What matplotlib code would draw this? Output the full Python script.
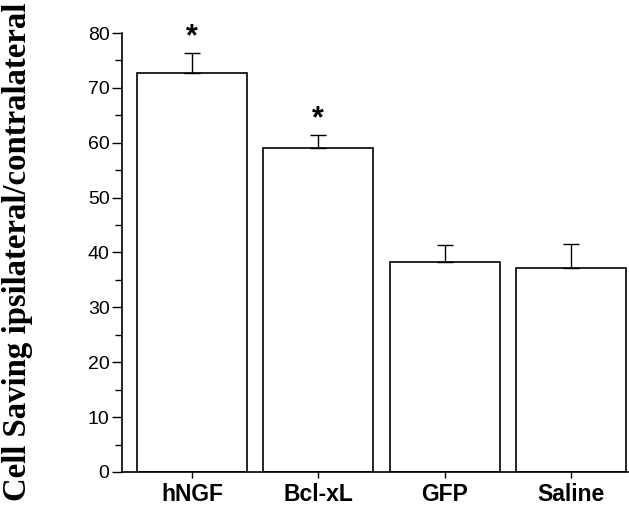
import numpy as np
import matplotlib.pyplot as plt
from matplotlib.ticker import MultipleLocator

groups = ['hNGF', 'Bcl-xL', 'GFP', 'Saline']
means = [72.8, 59.1, 38.3, 37.2]
errors = [3.5, 2.3, 3.0, 4.4]
signif = [True, True, False, False]

fig = plt.figure(figsize=(6.29, 5.08), dpi=100)
ax = fig.add_axes([0.194, 0.071, 0.804, 0.864])

x = np.arange(len(groups))
ax.bar(x, means, width=0.87, color='white', edgecolor='black', linewidth=1.2)
ax.errorbar(x, means, yerr=[np.zeros(len(errors)), errors], fmt='none',
            ecolor='black', elinewidth=1.0, capsize=6, capthick=1.0)

for xi, m, e, s in zip(x, means, errors, signif):
    if s:
        ax.text(xi, m + e + 0.2, '*', ha='center', va='bottom',
                fontsize=22, fontweight='bold', family='Liberation Sans')

ax.set_xlim(-0.554, 3.45)
ax.set_ylim(0, 80)
ax.yaxis.set_major_locator(MultipleLocator(10))
ax.yaxis.set_minor_locator(MultipleLocator(5))
ax.tick_params(axis='y', which='major', length=7, width=1.0, labelsize=14, pad=2)
ax.tick_params(axis='y', which='minor', length=5, width=1.0)
ax.tick_params(axis='x', length=4, width=1.0, pad=4)
ax.set_xticks(x)
ax.set_xticklabels(groups, fontsize=16.5, fontweight='bold', family='Liberation Sans')
for lab in ax.get_yticklabels():
    lab.set_family('Liberation Sans')

ax.spines['top'].set_visible(False)
ax.spines['right'].set_visible(False)
ax.spines['left'].set_linewidth(1.2)
ax.spines['bottom'].set_linewidth(1.2)

fig.text(0.028, 0.505, 'Cell Saving ipsilateral/contralateral', rotation=90,
         ha='center', va='center', fontsize=23.6, fontweight='bold',
         family='Liberation Serif')

fig.savefig('out.png', dpi=100)
